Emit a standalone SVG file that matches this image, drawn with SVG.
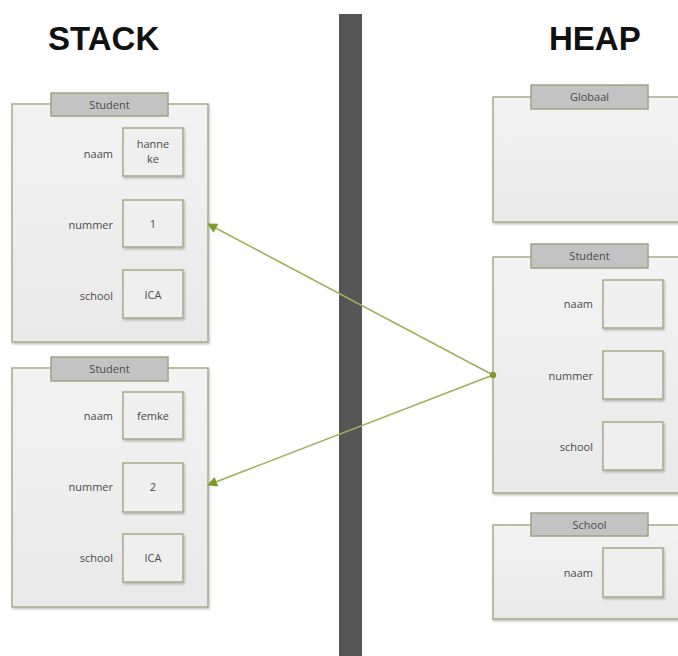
<svg xmlns="http://www.w3.org/2000/svg" width="678" height="656" viewBox="0 0 678 656">
<defs>
<linearGradient id="bg" x1="0" y1="0" x2="0" y2="1"><stop offset="0" stop-color="#f3f3f3"/><stop offset="1" stop-color="#e9e9e9"/></linearGradient>
<marker id="ah" viewBox="0 0 10 10" refX="9" refY="5" markerWidth="11" markerHeight="10" markerUnits="userSpaceOnUse" orient="auto"><path d="M0,0 L10,5 L0,10 z" fill="#7f9a2c"/></marker>
<filter id="sh" x="-10%" y="-10%" width="130%" height="130%"><feDropShadow dx="1" dy="1.5" stdDeviation="1" flood-color="#000" flood-opacity="0.25"/></filter>
</defs>
<style>
.box{fill:url(#bg);stroke:#a8aa8a;stroke-width:1.5;filter:url(#sh)}
.tab{fill:#c3c3c3;stroke:#a0a284;stroke-width:1.5}
.fld{fill:#efefef;stroke:#a8aa8a;stroke-width:1.5;filter:url(#sh)}
.tt{font-family:"Open Sans","Liberation Sans",sans-serif;font-size:11px;fill:#4a4a4a;text-anchor:middle}
.lb{font-family:"Open Sans","Liberation Sans",sans-serif;font-size:11px;fill:#4a4a4a;text-anchor:end}
.vl{font-family:"Open Sans","Liberation Sans",sans-serif;font-size:11px;fill:#4a4a4a;text-anchor:middle}
.hd{font-family:"Liberation Sans",Arial,sans-serif;font-size:33px;font-weight:bold;fill:#111}
.con{stroke:#9db15a;stroke-width:1.6;fill:none}
</style>
<rect width="678" height="656" fill="#fff"/>
<text class="hd" x="48" y="50">STACK</text>
<text class="hd" x="549" y="50">HEAP</text>
<rect id="divider" x="339" y="14" width="23" height="642" fill="#555"/>

<g id="stack-student-1">
<rect class="box" x="12" y="104" width="196" height="238"/>
<rect class="tab" x="51" y="93" width="117" height="23"/>
<text class="tt" x="109.5" y="109">Student</text>
<text class="lb" x="113" y="158">naam</text>
<rect class="fld" x="123" y="128" width="60" height="48"/>
<text class="vl" x="153" y="148">hanne</text>
<text class="vl" x="153" y="163">ke</text>
<text class="lb" x="113" y="229">nummer</text>
<rect class="fld" x="123" y="200" width="60" height="47"/>
<text class="vl" x="153" y="228">1</text>
<text class="lb" x="113" y="300">school</text>
<rect class="fld" x="123" y="270" width="60" height="48"/>
<text class="vl" x="153" y="299">ICA</text>
</g>

<g id="stack-student-2">
<rect class="box" x="12" y="368" width="196" height="239"/>
<rect class="tab" x="51" y="357" width="117" height="24"/>
<text class="tt" x="109.5" y="373">Student</text>
<text class="lb" x="113" y="420">naam</text>
<rect class="fld" x="123" y="392" width="60" height="47"/>
<text class="vl" x="153" y="420">femke</text>
<text class="lb" x="113" y="491">nummer</text>
<rect class="fld" x="123" y="463" width="60" height="49"/>
<text class="vl" x="153" y="491">2</text>
<text class="lb" x="113" y="562">school</text>
<rect class="fld" x="123" y="534" width="60" height="48"/>
<text class="vl" x="153" y="562">ICA</text>
</g>

<g id="heap-globaal">
<rect class="box" x="493" y="97" width="200" height="125"/>
<rect class="tab" x="531" y="85" width="117" height="24"/>
<text class="tt" x="589.5" y="101">Globaal</text>
</g>

<g id="heap-student">
<rect class="box" x="493" y="257" width="200" height="236"/>
<rect class="tab" x="531" y="244" width="117" height="24"/>
<text class="tt" x="589.5" y="260">Student</text>
<text class="lb" x="593" y="308">naam</text>
<rect class="fld" x="603" y="280" width="60" height="48"/>
<text class="lb" x="593" y="380">nummer</text>
<rect class="fld" x="603" y="351" width="60" height="48"/>
<text class="lb" x="593" y="451">school</text>
<rect class="fld" x="603" y="422" width="60" height="48"/>
</g>

<g id="heap-school">
<rect class="box" x="493" y="525" width="200" height="94"/>
<rect class="tab" x="531" y="513" width="117" height="23"/>
<text class="tt" x="589.5" y="529">School</text>
<text class="lb" x="593" y="577">naam</text>
<rect class="fld" x="603" y="548" width="60" height="49"/>
</g>

<g id="connectors">
<line class="con" x1="493" y1="375" x2="208" y2="224" marker-end="url(#ah)"/>
<line class="con" x1="493" y1="375" x2="208" y2="485" marker-end="url(#ah)"/>
<circle cx="493" cy="375" r="3.2" fill="#7f9a2c"/>
</g>
</svg>
